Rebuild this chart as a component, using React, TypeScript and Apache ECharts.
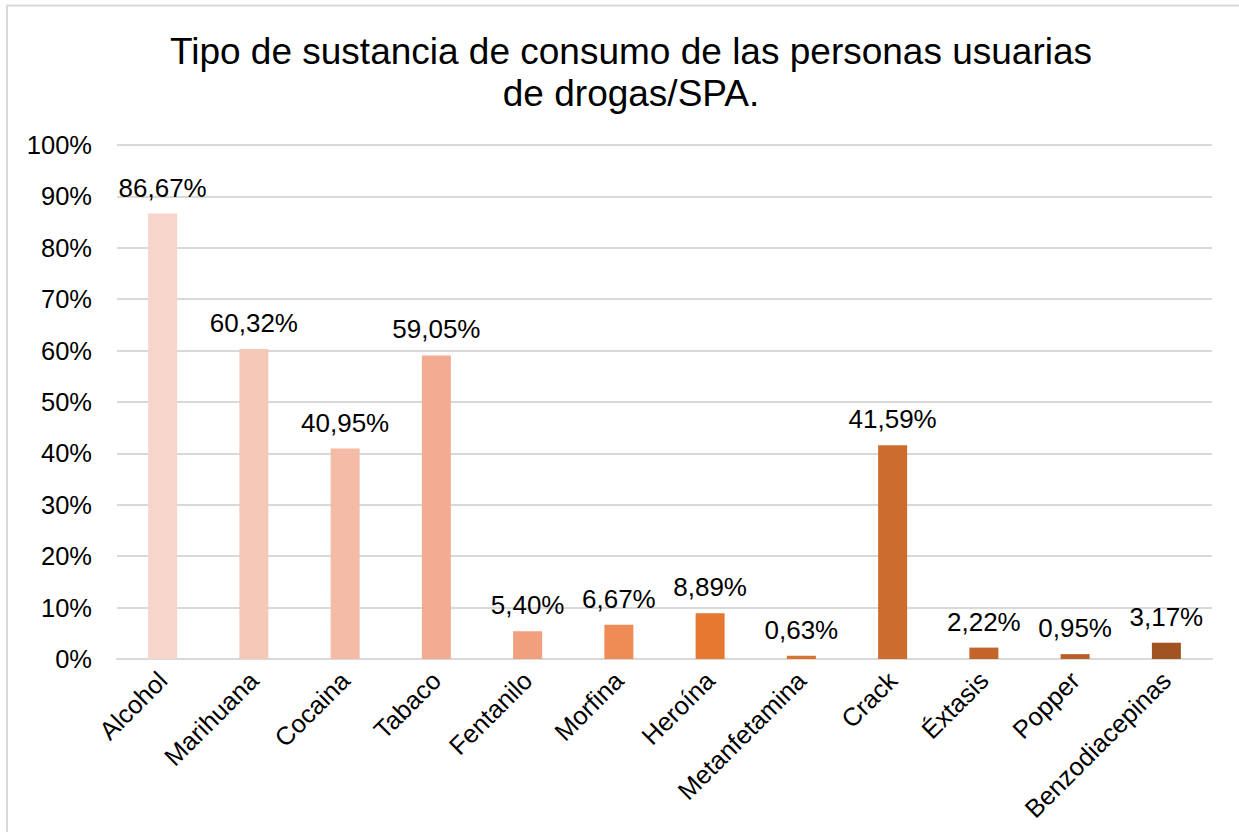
import React, { useEffect, useRef } from "react";
import * as echarts from "echarts";

const categories = [
  "Alcohol",
  "Marihuana",
  "Cocaina",
  "Tabaco",
  "Fentanilo",
  "Morfina",
  "Heroína",
  "Metanfetamina",
  "Crack",
  "Éxtasis",
  "Popper",
  "Benzodiacepinas",
];
const values = [86.67, 60.32, 40.95, 59.05, 5.4, 6.67, 8.89, 0.63, 41.59, 2.22, 0.95, 3.17];
const barColors = [
  "#F8D5CB",
  "#F6C8B8",
  "#F4BBA7",
  "#F2AC92",
  "#F19F7C",
  "#EF8C55",
  "#E6782F",
  "#DA7230",
  "#CD6D2D",
  "#C3652A",
  "#B95F27",
  "#A15322",
];
const yTicks = { min: 0, max: 100, interval: 10 };
const titleText = "Tipo de sustancia de consumo de las personas usuarias\nde drogas/SPA.";

const FONT = "'Liberation Sans', Arial, sans-serif";

export default function App() {
  const ref = useRef<HTMLDivElement>(null);
  useEffect(() => {
    if (!ref.current) return;
    const chart = echarts.init(ref.current, null, { renderer: "svg" });
    chart.setOption({
      animation: false,
      backgroundColor: "#ffffff",
      textStyle: { fontFamily: FONT },
      title: {
        text: titleText,
        left: 626,
        top: 25,
        textAlign: "center",
        textStyle: { fontFamily: FONT, fontSize: 37, fontWeight: "normal", color: "#000", lineHeight: 42 },
      },
      graphic: [
        {
          type: "rect",
          shape: { x: 7, y: 5.5, width: 1245, height: 840 },
          style: { fill: "none", stroke: "#d9d9d9", lineWidth: 2 },
          silent: true,
        },
      ],
      grid: { left: 117, right: 27, top: 145, bottom: 173, containLabel: false },
      xAxis: {
        type: "category",
        data: categories,
        axisLine: { show: true, lineStyle: { color: "#d9d9d9", width: 2 } },
        axisTick: { show: false },
        axisLabel: {
          rotate: 45,
          interval: 0,
          margin: 17,
          fontSize: 25.5,
          fontFamily: FONT,
          color: "#000",
        },
      },
      yAxis: {
        type: "value",
        min: yTicks.min,
        max: yTicks.max,
        interval: yTicks.interval,
        axisLine: { show: false },
        axisTick: { show: false },
        splitLine: { lineStyle: { color: "#d9d9d9", width: 2 } },
        axisLabel: {
          formatter: "{value}%",
          fontSize: 25.5,
          fontFamily: FONT,
          color: "#000",
          margin: 25,
        },
      },
      series: [
        {
          type: "bar",
          data: values.map((v, i) => ({ value: v, itemStyle: { color: barColors[i] } })),
          barWidth: 29,
          label: {
            show: true,
            position: "top",
            distance: 13,
            fontSize: 26,
            fontFamily: FONT,
            color: "#000",
            formatter: (p: any) => p.value.toFixed(2).replace(".", ",") + "%",
          },
        },
      ],
    });
    return () => chart.dispose();
  }, []);
  return (
    <div
      ref={ref}
      style={{ position: "absolute", left: 0, top: 0, width: 1239, height: 832 }}
    />
  );
}
